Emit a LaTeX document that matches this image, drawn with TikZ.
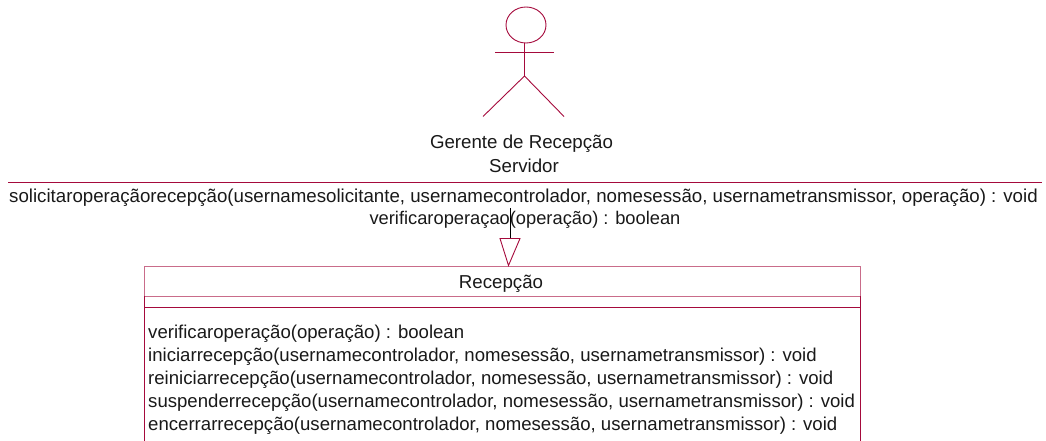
\documentclass[tikz,border=0pt]{standalone}
\usepackage{fontspec}
\setmainfont{Liberation Sans}
\usetikzlibrary{positioning}
\definecolor{umlrot}{HTML}{A50A3C}
\tikzset{
  umlline/.style={draw=umlrot,line width=0.9pt},
  umlfaint/.style={draw=umlrot!60,line width=1pt},
  umltext/.style={font=\fontsize{18.7}{18.7}\selectfont,text=black!90,inner sep=0pt,anchor=base},
  umlmethod/.style={umltext,font=\fontsize{18.6}{18.6}\selectfont,anchor=base west},
}
\begin{document}
\begin{tikzpicture}[x=1pt,y=-1pt]
\useasboundingbox (0,0) rectangle (1046,441);
%Akteur
  \pgfmathsetmacro{\kopfx}{526}
  \pgfmathsetmacro{\koerper}{524.5}
\draw[umlline] (\kopfx,25) ellipse [x radius=20,y radius=18];
\draw[umlline] (495,52) -- (554,52);
\draw[umlline] (\koerper,43) -- (\koerper,76);
\draw[umlline] (483,116.5) -- (\koerper,76) -- (564,116.5);
\node[umltext] (gerente) at (521.5,148) {Gerente de Recepção};
\node[umltext] (servidor) at (524,172) {Servidor};
%Schnittstelle
\draw[umlline] (8,182.5) -- (1042,182.5);
\node[umltext] (solicitar) at (523.5,202) {solicitaroperaçãorecepção(usernamesolicitante, usernamecontrolador, nomesessão, usernametransmissor, operação) : void};
\node[umltext,font=\fontsize{18.3}{18.3}\selectfont] (verificar) at (525,224) {verificaroperaçao(operação) : boolean};
%Klasse, unten offen
\draw[umlfaint] (144,296) -- (144,266) -- (860,266) -- (860,296) -- cycle;
\draw[umlline] (144,296) -- (144,441);
\draw[umlline] (860,296) -- (860,441);
\draw[umlline] (144,307) -- (860,307);
\node[umltext] (recepcao) at (501,288) {Recepção};
\foreach \zeile/\ypos/\name in {%
  {verificaroperação(operação) : boolean}/338/verif,
  {iniciarrecepção(usernamecontrolador, nomesessão, usernametransmissor) : void}/361/inic,
  {reiniciarrecepção(usernamecontrolador, nomesessão, usernametransmissor) : void}/384/reinic,
  {suspenderrecepção(usernamecontrolador, nomesessão, usernametransmissor) : void}/407/susp,
  {encerrarrecepção(usernamecontrolador, nomesessão, usernametransmissor) : void}/430/encer}{
\node[umlmethod] (\name) at (148,\ypos) {\zeile};
}
%Generalisierung
\coordinate (spitze) at (508.5,265.5);
\coordinate (dreieckl) at (500,238.5);
\coordinate (dreieckr) at (520,238.5);
\coordinate (ansatz) at (510,238.5);
\coordinate (ende) at (510,208);
\draw[black,line width=0.8pt] (ende) -- (ansatz);
\draw[umlline,fill=white] (dreieckl) -- (dreieckr) -- (spitze) -- cycle;
\end{tikzpicture}
\end{document}
